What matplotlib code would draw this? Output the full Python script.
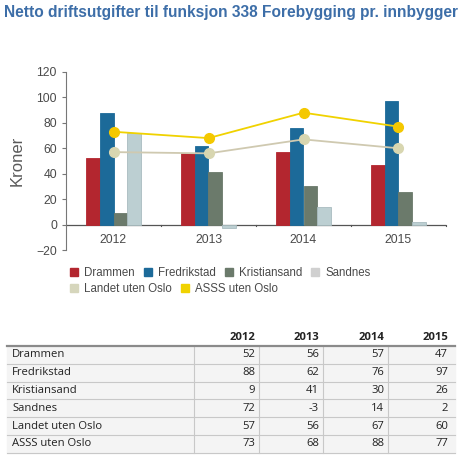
import matplotlib.pyplot as plt
import numpy as np
from matplotlib.patches import Rectangle

years = ["2012", "2013", "2014", "2015"]
drammen = [52, 56, 57, 47]
fredrikstad = [88, 62, 76, 97]
kristiansand = [9, 41, 30, 26]
sandnes = [72, -3, 14, 2]
landet = [57, 56, 67, 60]
asss = [73, 68, 88, 77]

bar_names = ["Drammen", "Fredrikstad", "Kristiansand", "Sandnes"]
bar_vals = [drammen, fredrikstad, kristiansand, sandnes]
bar_cols = ["#b3262f", "#1c6a99", "#6b7a6b", "#bccfd2"]
line_names = ["Landet uten Oslo", "ASSS uten Oslo"]
line_vals = [landet, asss]
line_cols = ["#cfc9b0", "#f0d200"]
marker_cols = ["#d8d6b0", "#f4c800"]

W, H = 470, 458
fig = plt.figure(figsize=(W / 100, H / 100), dpi=100)
plt.rcParams['font.family'] = ['Liberation Sans', 'DejaVu Sans']

fig.text(4 / W, 1 - 12 / H, "Netto driftsutgifter til funksjon 338 Forebygging pr. innbygger",
         fontsize=11.2, fontweight='bold', color="#3d6ea8",
         va='center', ha='left')

ax = fig.add_axes([66 / W, 1 - 250 / H, (446 - 66) / W, (250 - 72) / H])
x = np.arange(len(years))
w = 0.147
for i, (vals, c) in enumerate(zip(bar_vals, bar_cols)):
    ec = "#a9bcc0" if i == 3 else c
    ax.bar(x + (i - 1.5) * w, vals, w, color=c, edgecolor=ec, linewidth=0.6, zorder=2)
for vals, lc, mc in zip(line_vals, line_cols, marker_cols):
    ax.plot(x, vals, color=lc, lw=1.3, marker='o', ms=7, mfc=mc, mec=mc, zorder=3)

ax.set_xlim(-0.5, 3.5)
ax.set_ylim(-20, 120)
ax.set_yticks(range(-20, 121, 20))
for s in ["top", "right", "bottom"]:
    ax.spines[s].set_visible(False)
ax.spines["left"].set_color("#777777")
ax.axhline(0, color="#555555", lw=0.9, zorder=1)
ax.set_xticks([])
for b in [0.5, 1.5, 2.5, 3.5]:
    ax.plot([b, b], [0, -1.5], color="#555555", lw=0.8, clip_on=False)
for i, yr in enumerate(years):
    ax.text(i, -7.5, yr, ha='center', va='top', fontsize=8.8, color="#4a4a4a")
ax.tick_params(axis='y', labelsize=8.8, colors="#4a4a4a", length=3, color="#777777")
ax.set_ylabel("Kroner", fontsize=12, color="#5a5a5a", labelpad=8)

# legend
h1 = [Rectangle((0, 0), 1, 1, color=c) for c in bar_cols]
h1[3] = Rectangle((0, 0), 1, 1, color="#d0d0d0")
fig.legend(h1, bar_names, ncol=4, loc='center left', bbox_to_anchor=(60 / W, 1 - 273 / H),
           frameon=False, fontsize=8.3, handlelength=0.7, handleheight=0.7,
           handletextpad=0.5, columnspacing=0.8, labelcolor="#4a4a4a")
h2 = [Rectangle((0, 0), 1, 1, color="#d6d6bc"), Rectangle((0, 0), 1, 1, color="#f0d200")]
fig.legend(h2, line_names, ncol=2, loc='center left', bbox_to_anchor=(60 / W, 1 - 289 / H),
           frameon=False, fontsize=8.3, handlelength=0.7, handleheight=0.7,
           handletextpad=0.5, columnspacing=0.8, labelcolor="#4a4a4a")

# table
tx = fig.add_axes([0, 0, 1, 1])
tx.set_xlim(0, W)
tx.set_ylim(H, 0)
tx.axis('off')
col_right = [255, 319, 384, 448]
col_lines = [194, 259, 323, 388]
top, rh = 346, 17.8
tfont = dict(family=['Open Sans', 'DejaVu Sans'], fontsize=8.1, color="#222222")
for j, yr in enumerate(years):
    tx.text(col_right[j], 337, yr, ha='right', va='center', fontweight='bold', **tfont)
rows = bar_names + line_names
vals = bar_vals + line_vals
for r, (name, v) in enumerate(zip(rows, vals)):
    y0 = top + r * rh
    tx.add_patch(Rectangle((7, y0), 448, rh, color="#f4f4f4", zorder=0))
    tx.text(12, y0 + rh / 2, name, ha='left', va='center', **tfont)
    for j in range(4):
        tx.text(col_right[j], y0 + rh / 2, str(v[j]), ha='right', va='center', **tfont)
    tx.plot([7, 455], [y0 + rh, y0 + rh], color="#c8c8c8", lw=0.8)
for cx in col_lines:
    tx.plot([cx, cx], [top, top + 6 * rh], color="#c8c8c8", lw=0.8)
tx.plot([7, 455], [top, top], color="#8a8a8a", lw=1.6)

fig.savefig("out.png", dpi=100)
